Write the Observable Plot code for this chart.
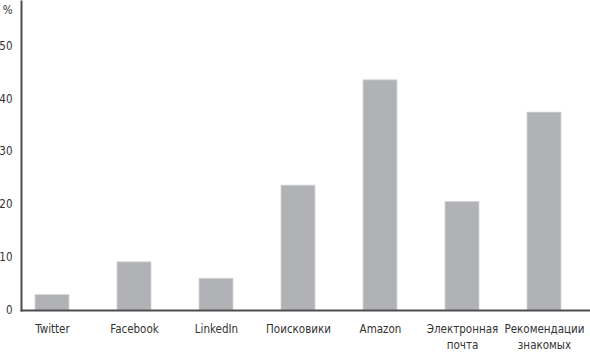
<!DOCTYPE html>
<html>
<head>
<meta charset="utf-8">
<script src="https://cdn.jsdelivr.net/npm/d3@7"></script>
<script src="https://cdn.jsdelivr.net/npm/@observablehq/plot@0.6"></script>
<style>
  html, body { margin: 0; padding: 0; background: #fff; }
  #chart svg { display: block; }
</style>
</head>
<body>
<div id="chart"></div>
<script>
const categories = ["Twitter", "Facebook", "LinkedIn", "Поисковики", "Amazon", "Электронная\nпочта", "Рекомендации\nзнакомых"];
const values = [2.9, 9.1, 6.0, 23.6, 43.5, 20.5, 37.4];
const yTicks = [0, 10, 20, 30, 40, 50];
const unitLabel = "%";

const data = categories.map((c, i) => ({category: c, value: values[i]}));
const font = "'DejaVu Sans Condensed', 'Liberation Sans Narrow', sans-serif";

const chart = Plot.plot({
  width: 590,
  height: 352,
  marginLeft: 21,
  marginRight: 0,
  marginTop: 1,
  marginBottom: 42,
  style: {fontFamily: font, fontSize: "11px", color: "#333", background: "#fff"},
  x: {domain: categories, range: [23.7, 571.1], paddingInner: 0.59, paddingOuter: 0.1, label: null},
  y: {domain: [0, 58.4], label: null},
  marks: [
    Plot.barY(data, {x: "category", y: "value", fill: "#b1b2b5", stroke: "#d4d4d6", strokeWidth: 0.8}),
    Plot.axisX({tickSize: 0, tickPadding: 11, lineHeight: 1.4, fontSize: 11.5, label: null}),
    Plot.axisY({ticks: yTicks, tickSize: 0, tickPadding: 9, fontSize: 11.5, label: null}),
    Plot.frame({anchor: "bottom", stroke: "#4d4d4d", strokeWidth: 2}),
    Plot.frame({anchor: "left", stroke: "#4d4d4d", strokeWidth: 2}),
    Plot.text([unitLabel], {frameAnchor: "top-left", dx: -9, dy: 4, textAnchor: "end", fontSize: 11.5, fill: "#333"})
  ]
});
document.getElementById("chart").appendChild(chart);
</script>
</body>
</html>
